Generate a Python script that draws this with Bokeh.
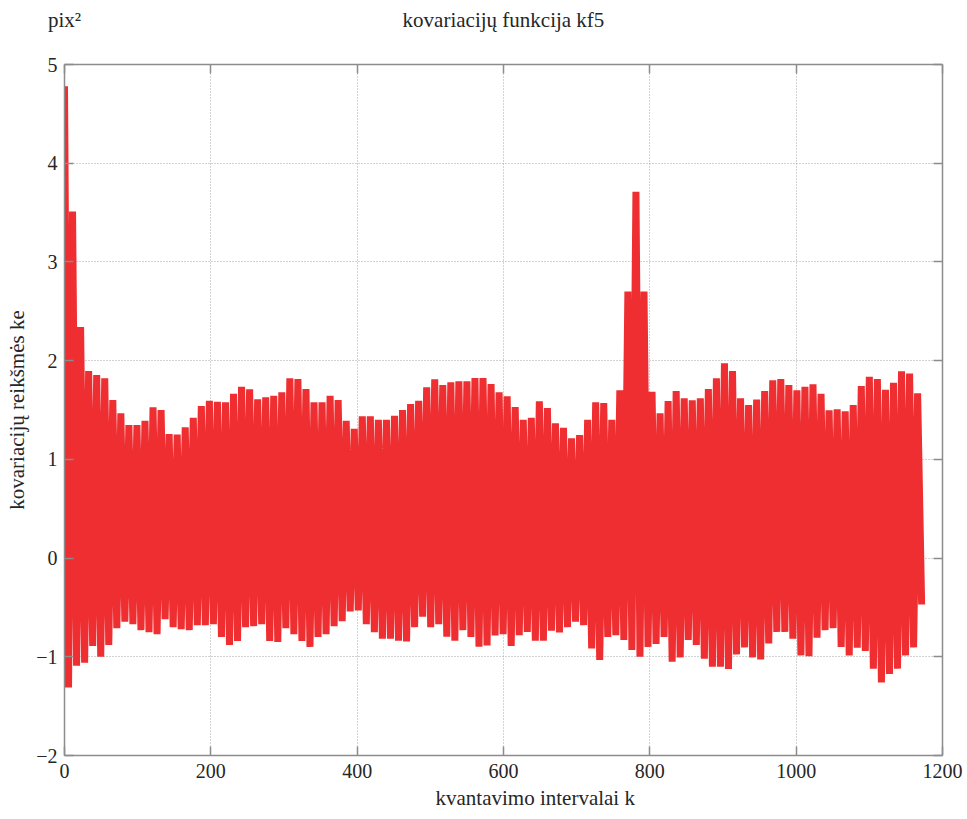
import numpy as np
from bokeh.plotting import figure
from bokeh.models import Range1d, FixedTicker, LinearAxis, Title, CustomLabelingPolicy
from bokeh.embed import file_html
from bokeh.resources import INLINE

# ---- data (local maxima / minima of each ~11-lag cycle) ----
peak_values = [
    4.78, 3.51, 2.34, 1.895, 1.854, 1.82, 1.60, 1.466, 1.348, 1.348,
    1.39, 1.527, 1.50, 1.256, 1.25, 1.324, 1.42, 1.54, 1.594, 1.583,
    1.577, 1.665, 1.736, 1.709, 1.608, 1.628, 1.645, 1.679, 1.82, 1.814,
    1.712, 1.577, 1.577, 1.645, 1.60, 1.39, 1.31, 1.435, 1.435, 1.40,
    1.40, 1.442, 1.50, 1.56, 1.594, 1.729, 1.81, 1.753, 1.78, 1.79,
    1.79, 1.823, 1.823, 1.763, 1.679, 1.638, 1.53, 1.40, 1.422, 1.587,
    1.52, 1.365, 1.32, 1.213, 1.246, 1.40, 1.577, 1.57, 1.40, 1.70,
    2.70, 3.71, 2.70, 1.685, 1.466, 1.59, 1.692, 1.618, 1.597, 1.618,
    1.712, 1.82, 1.972, 1.895, 1.618, 1.55, 1.607, 1.692, 1.80, 1.814,
    1.753, 1.699, 1.736, 1.76, 1.665, 1.496, 1.506, 1.486, 1.55, 1.743,
    1.837, 1.814, 1.705, 1.776, 1.891, 1.87, 1.668,
]
trough_values = [
    -1.31, -1.09, -1.06, -0.89, -1.00, -0.88, -0.71, -0.645, -0.67, -0.73,
    -0.75, -0.77, -0.62, -0.70, -0.72, -0.73, -0.68, -0.68, -0.67, -0.80,
    -0.88, -0.84, -0.70, -0.69, -0.67, -0.84, -0.85, -0.71, -0.77, -0.84,
    -0.90, -0.80, -0.77, -0.69, -0.64, -0.54, -0.53, -0.669, -0.75, -0.817,
    -0.817, -0.838, -0.844, -0.70, -0.595, -0.70, -0.67, -0.797, -0.838, -0.73,
    -0.80, -0.898, -0.885, -0.784, -0.77, -0.89, -0.78, -0.747, -0.838, -0.838,
    -0.736, -0.753, -0.70, -0.645, -0.68, -0.915, -1.033, -0.80, -0.78, -0.83,
    -0.93, -1.00, -0.90, -0.871, -0.80, -1.05, -1.006, -0.83, -0.88, -1.02,
    -1.10, -1.10, -1.124, -0.976, -0.905, -1.006, -1.026, -0.865, -0.748, -0.748,
    -0.817, -0.986, -0.993, -0.807, -0.73, -0.71, -0.90, -0.986, -0.908, -0.942,
    -1.12, -1.26, -1.175, -1.12, -0.986, -0.905, -0.47,
]
cycle_lags = 11  # lags between successive maxima

x_ticks = [0, 200, 400, 600, 800, 1000, 1200]
y_ticks = [-2, -1, 0, 1, 2, 3, 4, 5]
y_tick_labels = {-2: "−2", -1: "−1", 0: "0", 1: "1", 2: "2", 3: "3", 4: "4", 5: "5"}

title_text = "kovariacijų funkcija kf5"
unit_text = "pix²"
ylabel_text = "kovariacijų reikšmės ke"
xlabel_text = "kvantavimo intervalai k"

# ---- build the series ----
lags, vals = [], []
for i, (pk, tr) in enumerate(zip(peak_values, trough_values)):
    lags += [i * cycle_lags, i * cycle_lags + cycle_lags / 2]
    vals += [pk, tr]

FONT = "Liberation Serif"
TXT = "#262626"
AX = "#8c8c8c"

p = figure(width=967, height=819, x_range=Range1d(0, 1200), y_range=Range1d(-2, 5),
           output_backend="svg", toolbar_location=None,
           min_border_left=64, min_border_right=25, min_border_top=64, min_border_bottom=64)
p.outline_line_color = None
p.background_fill_color = "white"
p.border_fill_color = "white"

p.line(lags, vals, line_color="#ee2e31", line_width=7, line_join="bevel", line_cap="butt")


def style_axis(ax, ticks):
    ax.ticker = FixedTicker(ticks=ticks)
    ax.axis_line_color = AX
    ax.axis_line_width = 1.5
    ax.major_tick_line_color = AX
    ax.major_tick_line_width = 1.5
    ax.major_tick_in = 9
    ax.major_tick_out = 0
    ax.minor_tick_line_color = None
    ax.major_label_text_font = FONT
    ax.major_label_text_color = TXT
    ax.major_label_text_font_size = "20px"


xb = p.xaxis[0]
yl = p.yaxis[0]
style_axis(xb, x_ticks)
style_axis(yl, y_ticks)
xb.major_label_standoff = 8
yl.major_label_standoff = 7
yl.major_label_overrides = y_tick_labels
yl.axis_label = ylabel_text
yl.axis_label_text_font = FONT
yl.axis_label_text_font_size = "21px"
yl.axis_label_text_font_style = "normal"
yl.axis_label_text_color = TXT
yl.axis_label_standoff = 4

# top axis: inward ticks; its labels carry the unit (at the left end) and the title (at centre)
xa = LinearAxis()
style_axis(xa, x_ticks)
xa.major_label_text_font_size = "21px"
xa.major_label_standoff = 33
xa.major_label_overrides = {0: unit_text, 600: title_text}
xa.major_label_policy = CustomLabelingPolicy(code="""
    for (const i of indices) {
        if (i != 0 && i != 3)
            indices.unset(i)
    }
    return indices
""")
p.add_layout(xa, "above")

yr = LinearAxis()
style_axis(yr, y_ticks)
yr.major_label_standoff = 0
yr.major_label_policy = CustomLabelingPolicy(code="""
    for (const i of indices) {
        indices.unset(i)
    }
    return indices
""")
p.add_layout(yr, "right")

for g, t in ((p.xgrid, x_ticks), (p.ygrid, y_ticks)):
    g.ticker = FixedTicker(ticks=t)
    g.grid_line_color = "#a6a6a6"
    g.grid_line_dash = "1 2"
    g.grid_line_width = 1

p.add_layout(Title(text=xlabel_text, align="left", offset=371, standoff=6,
                   text_font=FONT, text_font_size="21px", text_font_style="normal",
                   text_color=TXT), "below")

open("out.html", "w").write(file_html(p, INLINE))
